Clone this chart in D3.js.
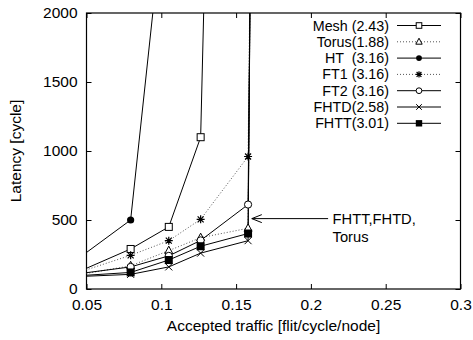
<!DOCTYPE html>
<html>
<head>
<meta charset="utf-8">
<script src="https://cdn.jsdelivr.net/npm/d3@7"></script>
<style>
  html, body { margin: 0; padding: 0; background: #fff; }
  svg { display: block; font-family: "Liberation Sans", Arial, Helvetica, sans-serif; }
</style>
</head>
<body>
<svg id="chart" width="473" height="340"></svg>
<script>
// Accepted traffic sample points shared by the topologies
const trafficMesh = [0.04, 0.0795, 0.105, 0.1263, 0.13];
const trafficHT   = [0.04, 0.0795, 0.105];
const trafficRest = [0.04, 0.0795, 0.105, 0.1263, 0.158, 0.16];

// Average latency [cycle] per topology
const latMesh  = [103, 290, 450, 1100, 2750];
const latTorus = [94, 168, 278, 372, 440, 3000];
const latHT    = [185, 500, 3080];
const latFT1   = [104, 244, 350, 505, 960, 3000];
const latFT2   = [104, 160, 240, 352, 612, 3000];
const latFHTD  = [88, 106, 160, 260, 350, 3000];
const latFHTT  = [93, 120, 210, 310, 402, 3000];

const seriesNames = ["Mesh (2.43)", "Torus(1.88)", "HT  (3.16)", "FT1 (3.16)", "FT2 (3.16)", "FHTD(2.58)", "FHTT(3.01)"];

const xTicks = [0.05, 0.1, 0.15, 0.2, 0.25, 0.3];
const yTicks = [0, 500, 1000, 1500, 2000];

const series = [
  { name: seriesNames[0], xs: trafficMesh, ys: latMesh,  dash: null,  stroke: "#000", marker: "square" },
  { name: seriesNames[1], xs: trafficRest, ys: latTorus, dash: "1,2", stroke: "#555", marker: "triangle" },
  { name: seriesNames[2], xs: trafficHT,   ys: latHT,    dash: null,  stroke: "#000", marker: "dot" },
  { name: seriesNames[3], xs: trafficRest, ys: latFT1,   dash: "1,2", stroke: "#555", marker: "star" },
  { name: seriesNames[4], xs: trafficRest, ys: latFT2,   dash: null,  stroke: "#000", marker: "circle" },
  { name: seriesNames[5], xs: trafficRest, ys: latFHTD,  dash: null,  stroke: "#000", marker: "cross" },
  { name: seriesNames[6], xs: trafficRest, ys: latFHTT,  dash: null,  stroke: "#000", marker: "filledSquare" }
];

const svg = d3.select("#chart");
const margin = { left: 86.5, right: 12.5, top: 13, bottom: 51 };
const W = 473, H = 340;

const x = d3.scaleLinear().domain([0.05, 0.3]).range([margin.left, W - margin.right]);
const y = d3.scaleLinear().domain([0, 2000]).range([H - margin.bottom, margin.top]);

svg.append("defs").append("clipPath").attr("id", "plotClip")
  .append("rect")
  .attr("x", x(0.05)).attr("y", y(2000))
  .attr("width", x(0.3) - x(0.05)).attr("height", y(0) - y(2000));

// Axes with inward ticks, mirrored on top and right
const tickLen = 5;
const fontAxis = 15.5;

const gx = svg.append("g").attr("transform", `translate(0,${y(0)})`)
  .call(d3.axisBottom(x).tickValues(xTicks).tickSize(-tickLen).tickPadding(10)
    .tickFormat(d => String(+d.toFixed(2))));
const gxTop = svg.append("g").attr("transform", `translate(0,${y(2000)})`)
  .call(d3.axisTop(x).tickValues(xTicks).tickSize(-tickLen).tickFormat(""));
const gy = svg.append("g").attr("transform", `translate(${x(0.05)},0)`)
  .call(d3.axisLeft(y).tickValues(yTicks).tickSize(-tickLen).tickPadding(9)
    .tickFormat(d3.format("d")));
const gyRight = svg.append("g").attr("transform", `translate(${x(0.3)},0)`)
  .call(d3.axisRight(y).tickValues(yTicks).tickSize(-tickLen).tickFormat(""));

[gx, gxTop, gy, gyRight].forEach(g => {
  g.select(".domain").remove();
  g.selectAll(".tick line").attr("stroke", "#000").attr("stroke-width", 1);
  g.selectAll(".tick text").attr("fill", "#000").attr("font-size", fontAxis)
    .attr("font-family", "Liberation Sans, Arial, sans-serif");
});

// Plot border
svg.append("rect")
  .attr("x", x(0.05)).attr("y", y(2000))
  .attr("width", x(0.3) - x(0.05)).attr("height", y(0) - y(2000))
  .attr("fill", "none").attr("stroke", "#000").attr("stroke-width", 1.2);

// Axis titles
svg.append("text")
  .attr("x", (x(0.05) + x(0.3)) / 2).attr("y", 331)
  .attr("text-anchor", "middle").attr("font-size", fontAxis)
  .text("Accepted traffic [flit/cycle/node]");
svg.append("text")
  .attr("transform", `translate(21,${(y(0) + y(2000)) / 2}) rotate(-90)`)
  .attr("text-anchor", "middle").attr("font-size", fontAxis)
  .text("Latency [cycle]");

// Marker drawing; k scales the glyph size
function drawMarker(g, type, cx, cy, k = 1) {
  const s = 3.5 * k;
  switch (type) {
    case "square":
      g.append("rect").attr("x", cx - s).attr("y", cy - s).attr("width", 2 * s).attr("height", 2 * s)
        .attr("fill", "#fff").attr("stroke", "#000").attr("stroke-width", 1);
      break;
    case "filledSquare":
      g.append("rect").attr("x", cx - 4 * k).attr("y", cy - 4 * k).attr("width", 8 * k).attr("height", 8 * k)
        .attr("fill", "#000");
      break;
    case "triangle":
      g.append("path")
        .attr("d", `M${cx},${cy - 4.5 * k}L${cx + 4 * k},${cy + 3 * k}L${cx - 4 * k},${cy + 3 * k}Z`)
        .attr("fill", "#fff").attr("stroke", "#000").attr("stroke-width", 1);
      break;
    case "dot":
      g.append("circle").attr("cx", cx).attr("cy", cy).attr("r", 3.6 * k).attr("fill", "#000");
      break;
    case "circle":
      g.append("circle").attr("cx", cx).attr("cy", cy).attr("r", 3.6 * k)
        .attr("fill", "#fff").attr("stroke", "#000").attr("stroke-width", 1);
      break;
    case "cross":
      g.append("path")
        .attr("d", `M${cx - s},${cy - s}L${cx + s},${cy + s}M${cx - s},${cy + s}L${cx + s},${cy - s}`)
        .attr("stroke", "#000").attr("stroke-width", 1);
      break;
    case "star": {
      const a = 4 * k, b = 3 * k;
      g.append("path")
        .attr("d", `M${cx - a},${cy}L${cx + a},${cy}M${cx},${cy - a}L${cx},${cy + a}` +
                   `M${cx - b},${cy - b}L${cx + b},${cy + b}M${cx - b},${cy + b}L${cx + b},${cy - b}`)
        .attr("stroke", "#000").attr("stroke-width", 1.2);
      break;
    }
  }
}

const line = d3.line().x(d => x(d[0])).y(d => y(d[1]));
const plot = svg.append("g").attr("clip-path", "url(#plotClip)");

series.forEach(s => {
  const pts = s.xs.map((v, i) => [v, s.ys[i]]);
  plot.append("path").datum(pts)
    .attr("d", line).attr("fill", "none")
    .attr("stroke", s.stroke).attr("stroke-width", 1)
    .attr("stroke-dasharray", s.dash);
});

// Markers for points inside the plotting range
const markLayer = svg.append("g");
series.forEach(s => {
  s.xs.forEach((v, i) => {
    const val = s.ys[i];
    if (v > 0.05 && v <= 0.3 && val >= 0 && val <= 2000) {
      drawMarker(markLayer, s.marker, x(v), y(val));
    }
  });
});

// Annotation with open arrow head
const arrowFrom = [0.2115, 510], arrowTo = [0.1605, 510];
const ann = svg.append("g");
ann.append("line")
  .attr("x1", x(arrowFrom[0])).attr("y1", y(arrowFrom[1]))
  .attr("x2", x(arrowTo[0])).attr("y2", y(arrowTo[1]))
  .attr("stroke", "#000").attr("stroke-width", 1);
ann.append("path")
  .attr("d", `M${x(arrowTo[0]) + 10},${y(arrowTo[1]) - 4}L${x(arrowTo[0])},${y(arrowTo[1])}L${x(arrowTo[0]) + 10},${y(arrowTo[1]) + 4}`)
  .attr("fill", "none").attr("stroke", "#000").attr("stroke-width", 1);
ann.append("text")
  .attr("x", x(0.2145)).attr("y", y(arrowFrom[1]) + 5.5)
  .attr("font-size", 14.7).text("FHTT,FHTD,");
ann.append("text")
  .attr("x", x(0.2145)).attr("y", y(arrowFrom[1]) + 23)
  .attr("font-size", 14.7).text("Torus");

// Legend
const legend = svg.append("g");
const legTextX = 389, legLineX1 = 397, legLineX2 = 441, legY0 = 25.5, legStep = 16.3;
series.forEach((s, i) => {
  const cy = legY0 + i * legStep;
  legend.append("text")
    .attr("x", legTextX).attr("y", cy + 5)
    .attr("text-anchor", "end").attr("font-size", 14.3)
    .attr("xml:space", "preserve").style("white-space", "pre")
    .text(s.name);
  legend.append("line")
    .attr("x1", legLineX1).attr("x2", legLineX2).attr("y1", cy).attr("y2", cy)
    .attr("stroke", s.stroke).attr("stroke-width", 1)
    .attr("stroke-dasharray", s.dash);
  drawMarker(legend, s.marker, (legLineX1 + legLineX2) / 2, cy, 0.8);
});
</script>
</body>
</html>
